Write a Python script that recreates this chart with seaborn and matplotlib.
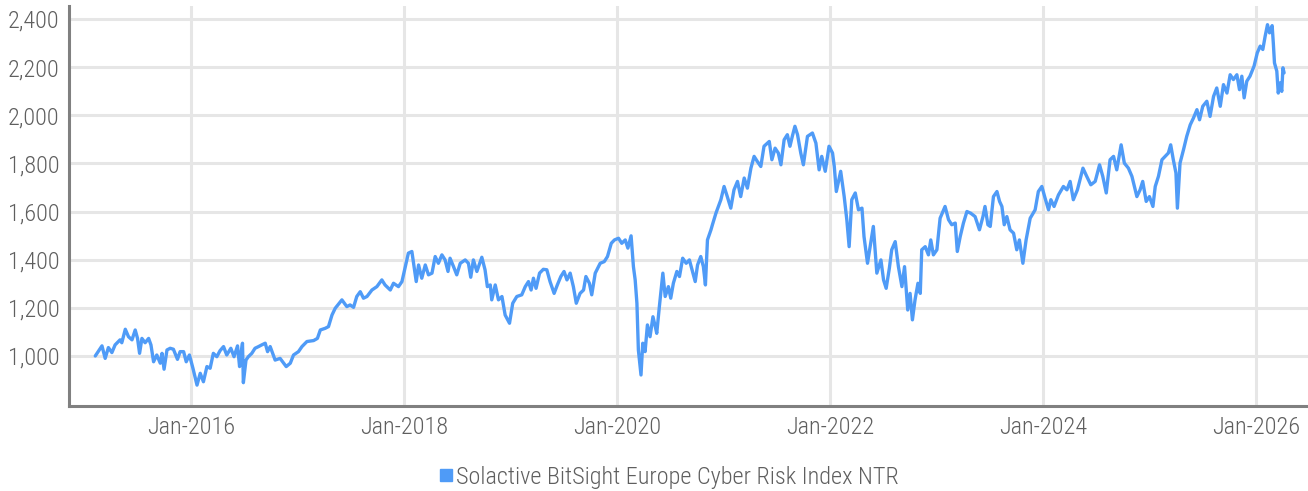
import pandas as pd
import numpy as np
import seaborn as sns
import matplotlib.pyplot as plt
import matplotlib.dates as mdates
from matplotlib.lines import Line2D
from matplotlib.ticker import FuncFormatter
from matplotlib import font_manager

# Index level (approximate turning points)
dates = [
    "2015-02-06", "2015-03-01", "2015-03-12", "2015-03-23", "2015-04-04", "2015-04-15",
    "2015-05-02", "2015-05-08", "2015-05-20", "2015-05-31", "2015-06-12", "2015-06-23",
    "2015-07-01", "2015-07-08", "2015-07-16", "2015-07-27", "2015-08-08", "2015-08-16",
    "2015-08-25", "2015-09-05", "2015-09-17", "2015-09-23", "2015-09-30", "2015-10-10",
    "2015-10-21", "2015-11-01", "2015-11-15", "2015-11-24", "2015-12-06", "2015-12-15",
    "2015-12-26",
    "2016-01-07", "2016-01-21", "2016-02-01", "2016-02-12", "2016-02-24", "2016-03-06",
    "2016-03-17", "2016-03-29", "2016-04-09", "2016-04-21", "2016-05-02", "2016-05-16",
    "2016-05-27", "2016-06-08", "2016-06-15", "2016-06-20", "2016-06-25", "2016-06-28",
    "2016-07-07", "2016-07-15", "2016-07-27", "2016-08-07", "2016-08-19", "2016-08-30",
    "2016-09-11", "2016-09-19", "2016-09-28", "2016-10-15", "2016-11-01", "2016-11-22",
    "2016-12-06", "2016-12-17",
    "2017-01-03", "2017-01-15", "2017-02-01", "2017-02-24", "2017-03-09", "2017-03-19",
    "2017-04-05", "2017-04-16", "2017-04-28", "2017-05-09", "2017-06-01", "2017-06-18",
    "2017-06-29", "2017-07-11", "2017-07-22", "2017-08-03", "2017-08-14", "2017-08-26",
    "2017-09-12", "2017-09-29", "2017-10-16", "2017-10-27", "2017-11-14", "2017-11-25",
    "2017-12-12", "2017-12-24",
    "2018-01-04", "2018-01-15", "2018-01-27", "2018-02-11", "2018-02-19", "2018-03-02",
    "2018-03-14", "2018-03-25", "2018-04-06", "2018-04-17", "2018-04-28", "2018-05-10",
    "2018-05-21", "2018-05-31", "2018-06-07", "2018-06-19", "2018-06-30", "2018-07-12",
    "2018-07-29", "2018-08-09", "2018-08-17", "2018-08-26", "2018-09-07", "2018-09-24",
    "2018-10-05", "2018-10-13", "2018-10-23", "2018-10-28", "2018-11-09", "2018-11-20",
    "2018-12-02", "2018-12-13", "2018-12-28",
    "2019-01-08", "2019-01-22", "2019-02-08", "2019-02-20", "2019-03-03", "2019-03-12",
    "2019-03-20", "2019-03-29", "2019-04-10", "2019-04-23", "2019-05-05", "2019-05-16",
    "2019-05-30", "2019-06-10", "2019-06-22", "2019-07-03", "2019-07-13", "2019-07-24",
    "2019-08-04", "2019-08-14", "2019-08-27", "2019-09-08", "2019-09-16", "2019-09-28",
    "2019-10-06", "2019-10-18", "2019-11-04", "2019-11-18", "2019-11-29", "2019-12-12",
    "2019-12-23",
    "2020-01-06", "2020-01-17", "2020-01-29", "2020-02-07", "2020-02-18", "2020-02-26",
    "2020-03-03", "2020-03-09", "2020-03-14", "2020-03-23", "2020-03-29", "2020-04-06",
    "2020-04-14", "2020-04-23", "2020-05-03", "2020-05-11", "2020-05-16", "2020-05-25",
    "2020-06-06", "2020-06-14", "2020-06-25", "2020-07-03", "2020-07-12", "2020-07-24",
    "2020-08-02", "2020-08-13", "2020-08-25", "2020-09-05", "2020-09-17", "2020-09-25",
    "2020-10-03", "2020-10-14", "2020-10-23", "2020-10-30", "2020-11-06", "2020-11-18",
    "2020-11-23", "2020-12-05", "2020-12-22",
    "2021-01-02", "2021-01-13", "2021-01-25", "2021-02-05", "2021-02-17", "2021-02-28",
    "2021-03-12", "2021-03-23", "2021-04-04", "2021-04-15", "2021-04-26", "2021-05-08",
    "2021-05-19", "2021-06-06", "2021-06-15", "2021-06-26", "2021-07-07", "2021-07-16",
    "2021-07-27", "2021-08-07", "2021-08-16", "2021-08-24", "2021-09-02", "2021-09-11",
    "2021-09-22", "2021-10-01", "2021-10-15", "2021-11-01", "2021-11-13", "2021-11-24",
    "2021-12-03", "2021-12-15", "2021-12-28",
    "2022-01-09", "2022-01-15", "2022-01-22", "2022-02-06", "2022-02-18", "2022-02-27",
    "2022-03-07", "2022-03-16", "2022-03-28", "2022-04-08", "2022-04-20", "2022-04-27",
    "2022-05-09", "2022-05-18", "2022-05-29", "2022-06-10", "2022-06-24", "2022-07-03",
    "2022-07-12", "2022-07-23", "2022-07-31", "2022-08-12", "2022-08-23", "2022-09-04",
    "2022-09-13", "2022-09-24", "2022-10-02", "2022-10-10", "2022-10-19", "2022-10-29",
    "2022-11-06", "2022-11-11", "2022-11-23", "2022-12-04", "2022-12-12", "2022-12-21",
    "2023-01-02", "2023-01-13", "2023-01-30", "2023-02-11", "2023-02-22", "2023-03-06",
    "2023-03-13", "2023-03-23", "2023-04-03", "2023-04-15", "2023-04-28", "2023-05-13",
    "2023-05-28", "2023-06-09", "2023-06-16", "2023-06-26", "2023-07-04", "2023-07-15",
    "2023-07-27", "2023-08-05", "2023-08-13", "2023-08-21", "2023-08-30", "2023-09-10",
    "2023-09-22", "2023-10-03", "2023-10-12", "2023-10-24", "2023-11-04", "2023-11-18",
    "2023-12-05", "2023-12-16", "2023-12-28",
    "2024-01-08", "2024-01-20", "2024-01-28", "2024-02-08", "2024-02-23", "2024-03-11",
    "2024-03-23", "2024-04-03", "2024-04-14", "2024-04-28", "2024-05-17", "2024-05-30",
    "2024-06-13", "2024-06-28", "2024-07-13", "2024-07-24", "2024-08-05", "2024-08-18",
    "2024-08-30", "2024-09-10", "2024-09-25", "2024-10-06", "2024-10-20", "2024-11-01",
    "2024-11-18", "2024-11-29", "2024-12-08", "2024-12-20", "2024-12-31",
    "2025-01-12", "2025-01-20", "2025-01-31", "2025-02-12", "2025-02-23", "2025-03-06",
    "2025-03-14", "2025-03-23", "2025-04-01", "2025-04-06", "2025-04-15", "2025-04-27",
    "2025-05-08", "2025-05-20", "2025-05-31", "2025-06-12", "2025-06-21", "2025-07-02",
    "2025-07-16", "2025-07-27", "2025-08-08", "2025-08-19", "2025-08-31", "2025-09-11",
    "2025-09-23", "2025-10-04", "2025-10-15", "2025-10-27", "2025-11-05", "2025-11-13",
    "2025-11-21", "2025-11-30", "2025-12-11", "2025-12-25",
    "2026-01-05", "2026-01-15", "2026-01-24", "2026-02-01", "2026-02-09", "2026-02-16",
    "2026-02-25", "2026-03-01", "2026-03-05", "2026-03-13", "2026-03-18", "2026-03-24",
    "2026-03-30", "2026-04-03", "2026-04-07",
]

values = [
    1000, 1042, 990, 1035, 1014, 1046,
    1067, 1055, 1111, 1080, 1067, 1108,
    1073, 1011, 1073, 1055, 1073, 1046,
    976, 1004, 970, 1011, 945, 1025,
    1032, 1028, 986, 1018, 1018, 976,
    1004,
    949, 879, 928, 893, 956, 949,
    1011, 997, 1022, 1039, 1004, 1032,
    997, 1042, 956, 1011, 1053, 889,
    983, 997, 1011, 1032, 1039, 1046,
    1053, 1018, 1039, 983, 990, 956,
    970, 1004,
    1018, 1039, 1060, 1064, 1073, 1108,
    1115, 1122, 1170, 1198, 1233, 1205,
    1212, 1202, 1247, 1267, 1240, 1247,
    1274, 1288, 1316, 1295, 1274, 1302,
    1288, 1309,
    1368, 1427, 1434, 1309, 1378, 1323,
    1378, 1337, 1344, 1413, 1385, 1420,
    1399, 1351, 1406, 1371, 1337, 1385,
    1399, 1385, 1327, 1399, 1351, 1410,
    1358, 1288, 1295, 1233, 1295, 1233,
    1247, 1170, 1136,
    1219, 1247, 1254, 1288, 1309, 1274,
    1323, 1281, 1344, 1360, 1358, 1309,
    1260, 1295, 1330, 1351, 1316, 1344,
    1288, 1219, 1260, 1274, 1330, 1302,
    1254, 1344, 1385, 1392, 1413, 1468,
    1482,
    1489, 1468, 1482, 1448, 1499, 1371,
    1316, 1219, 1025, 921, 1053, 1018,
    1129, 1080, 1163, 1122, 1094, 1205,
    1344, 1247, 1288, 1240, 1302, 1351,
    1330, 1406, 1385, 1399, 1344, 1309,
    1378, 1413, 1371, 1295, 1482, 1524,
    1545, 1593, 1649,
    1704, 1662, 1614, 1690, 1725, 1662,
    1739, 1697, 1780, 1829, 1808, 1787,
    1871, 1891, 1815, 1863, 1843, 1794,
    1898, 1919, 1871, 1912, 1954, 1919,
    1843, 1794, 1912, 1926, 1884, 1773,
    1829, 1767, 1871,
    1843, 1787, 1683, 1767, 1662, 1566,
    1454, 1649, 1677, 1607, 1614, 1496,
    1385, 1454, 1538, 1344, 1399, 1316,
    1281, 1365, 1441, 1475, 1371, 1288,
    1371, 1191, 1260, 1150, 1233, 1302,
    1260, 1441, 1454, 1420, 1482, 1420,
    1441, 1572, 1621, 1566, 1545, 1552,
    1434, 1496, 1552, 1600, 1593, 1579,
    1524, 1579, 1621, 1545, 1538, 1662,
    1683, 1642, 1621, 1545, 1579, 1524,
    1510, 1441, 1482, 1385, 1482, 1572,
    1607, 1683, 1704,
    1656, 1607, 1649, 1621, 1669, 1704,
    1690, 1725, 1649, 1690, 1780, 1746,
    1711, 1725, 1794, 1746, 1677, 1815,
    1829, 1773, 1877, 1801, 1780, 1746,
    1662, 1690, 1725, 1642, 1662,
    1621, 1704, 1746, 1815, 1829, 1843,
    1877, 1815, 1760, 1614, 1801, 1857,
    1912, 1960, 1988, 2023, 1981, 2037,
    2058, 1995, 2078, 2113, 2037, 2127,
    2092, 2168, 2148, 2168, 2106, 2162,
    2072, 2141, 2162, 2204,
    2259, 2287, 2273, 2328, 2376, 2342,
    2372, 2300, 2217, 2183, 2092, 2134,
    2099, 2197, 2176,
]

series_name = "Solactive BitSight Europe Cyber Risk Index NTR"
y_ticks = [1000, 1200, 1400, 1600, 1800, 2000, 2200, 2400]
x_tick_years = [2016, 2018, 2020, 2022, 2024, 2026]

df = pd.DataFrame({"date": pd.to_datetime(dates), "value": values})

line_color = "#4f9bf7"
grid_color = "#e6e6e6"
spine_color = "#808080"
text_color = "#5f5f5f"

# pick the narrowest installed family available
installed = {f.name for f in font_manager.fontManager.ttflist}
families = [f for f in ["Roboto Condensed", "Liberation Sans Narrow", "Roboto"] if f in installed]

sns.set_style("white")
plt.rcParams["font.family"] = families + ["DejaVu Sans"]
plt.rcParams["font.weight"] = "light"

fig = plt.figure(figsize=(13.08, 4.91), dpi=100)
ax = fig.add_axes([0.053, 0.173, 0.947, 0.815])

sns.lineplot(data=df, x="date", y="value", ax=ax, color=line_color, linewidth=2.4)

ax.set_ylim(792, 2454)
ax.set_xlim(pd.Timestamp("2014-11-09"), pd.Timestamp("2026-06-28"))
ax.set_yticks(y_ticks)
ax.yaxis.set_major_formatter(FuncFormatter(lambda v, p: f"{int(v):,}"))
ax.set_xticks([pd.Timestamp(f"{y}-01-01") for y in x_tick_years])
ax.xaxis.set_major_formatter(mdates.DateFormatter("%b-%Y"))

ax.grid(True, color=grid_color, linewidth=2.2)
ax.set_axisbelow(True)
ax.set_xlabel("")
ax.set_ylabel("")
ax.tick_params(axis="both", length=0, labelsize=17.5, colors=text_color, pad=7)

for side in ["top", "right"]:
    ax.spines[side].set_visible(False)
for side in ["left", "bottom"]:
    ax.spines[side].set_color(spine_color)
    ax.spines[side].set_linewidth(2.2)

handle = Line2D([], [], marker="s", linestyle="none", color=line_color, markersize=9)
fig.legend([handle], [series_name], loc="center", bbox_to_anchor=(0.511, 0.028),
           frameon=False, fontsize=17.5, handletextpad=0.05, handlelength=0.7,
           labelcolor=text_color)

fig.savefig("out.png", dpi=100)
